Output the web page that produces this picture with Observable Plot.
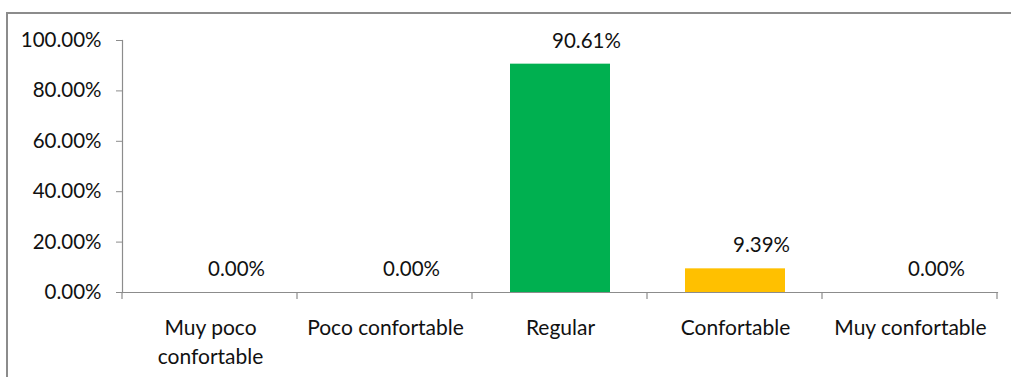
<!DOCTYPE html>
<html>
<head>
<meta charset="utf-8">
<script src="https://cdn.jsdelivr.net/npm/d3@7"></script>
<script src="https://cdn.jsdelivr.net/npm/@observablehq/plot@0.6"></script>
<style>
  html, body { margin: 0; padding: 0; background: #fff; overflow: hidden; }
  #wrap { position: relative; width: 1011px; height: 377px; }
  #border { position: absolute; left: 6px; top: 12px; width: 1100px; height: 400px;
            border-top: 2px solid #8c8c8c; border-left: 2px solid #8c8c8c; box-sizing: border-box; }
  #chart { position: absolute; left: 0; top: 0; }
</style>
</head>
<body>
<div id="wrap"><div id="border"></div><div id="chart"></div></div>
<script>
const categories = ["Muy poco confortable", "Poco confortable", "Regular", "Confortable", "Muy confortable"];
const tickLabels = ["Muy poco\nconfortable", "Poco confortable", "Regular", "Confortable", "Muy confortable"];
const values = [0, 0, 0.9061, 0.0939, 0];
const barColors = ["#00B050", "#00B050", "#00B050", "#FFC000", "#FFC000"];
const yTicks = [0, 0.2, 0.4, 0.6, 0.8, 1.0];

const data = categories.map((c, i) => ({cat: c, value: values[i], color: barColors[i]}));
const pct = d3.format(".2%");
const font = "Lato, 'Open Sans', sans-serif";

function boundaryTicks(index, scales, vals, dim) {
  const left = dim.marginLeft, right = dim.width - dim.marginRight;
  const y0 = scales.y(0);
  const n = categories.length;
  const g = d3.create("svg:g");
  for (let i = 0; i <= n; i++) {
    const x = left + i * (right - left) / n;
    g.append("line").attr("x1", x).attr("x2", x).attr("y1", y0).attr("y2", y0 + 7)
      .attr("stroke", "#8c8c8c").attr("stroke-width", 1.2);
  }
  return g.node();
}

const plot = Plot.plot({
  width: 1011,
  height: 377,
  marginLeft: 122,
  marginRight: 14,
  marginTop: 40,
  marginBottom: 85,
  style: {fontFamily: font, fontSize: "20.5px", color: "#111", background: "transparent"},
  x: {domain: categories, paddingInner: 0.43, paddingOuter: 0.215, label: null},
  y: {domain: [0, 1], label: null},
  marks: [
    Plot.barY(data, {x: "cat", y: "value", fill: "color"}),
    Plot.frame({anchor: "left", stroke: "#8c8c8c", strokeWidth: 1.2}),
    Plot.frame({anchor: "bottom", stroke: "#8c8c8c", strokeWidth: 1.2}),
    Plot.axisY({ticks: yTicks, tickFormat: pct, tickSize: 6, tickPadding: 15, stroke: "#8c8c8c", fontSize: 20.5, label: null}),
    Plot.axisX({tickSize: 0, tickPadding: 22, tickFormat: (d) => tickLabels[categories.indexOf(d)], lineHeight: 1.38, fontSize: 21, label: null}),
    boundaryTicks,
    Plot.text(data, {x: "cat", y: "value", text: d => pct(d.value), dy: -23, dx: 26, fontSize: 20.5, fill: "#111"})
  ]
});
document.getElementById("chart").appendChild(plot);
</script>
</body>
</html>
